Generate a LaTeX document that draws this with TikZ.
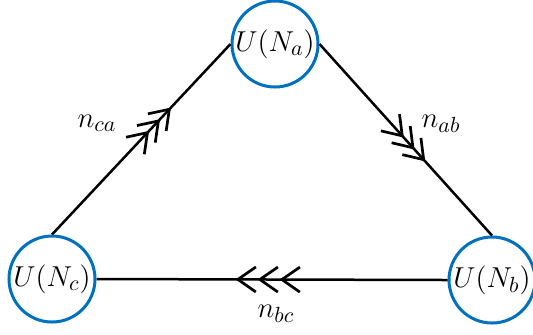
\documentclass[tikz,border=0pt]{standalone}
\usetikzlibrary{arrows.meta,decorations.markings}
\definecolor{nodeblue}{HTML}{0070C0}
\begin{document}
\begin{tikzpicture}[x=0.5pt,y=-0.5pt,
  state/.style={circle,draw=nodeblue,line width=1.5pt,minimum size=43pt,inner sep=0pt,font=\fontsize{15}{17}\selectfont},
  conn/.style={draw=black,line width=1.25pt},
  lbl/.style={font=\fontsize{15}{17}\selectfont},
  tri/.style n args={3}{postaction={decorate},decoration={markings,
    mark=at position #1 with {\arrow[line width=1.35pt]{Straight Barb[length=9pt,width=12.5pt]}},
    mark=at position #2 with {\arrow[line width=1.35pt]{Straight Barb[length=9pt,width=12.5pt]}},
    mark=at position #3 with {\arrow[line width=1.35pt]{Straight Barb[length=9pt,width=12.5pt]}}}}]
\useasboundingbox (0,0) rectangle (533,334);
\node[state] (a) at (275,44) {$U(N_a)$};
\node[state] (b) at (492,280) {$U(N_b)$};
\node[state] (c) at (52,279) {$U(N_c)$};
\draw[conn,tri={87pt}{79pt}{71pt}] (c.north) -- (a.west);
\draw[conn,tri={79pt}{71pt}{63pt}] (a.east) -- (b.north);
\draw[conn,tri={106pt}{95pt}{84pt}] (b.west) -- (c.east);
\node[lbl] (nca) at (97,123) {$n_{ca}$};
\node[lbl] (nab) at (441,124) {$n_{ab}$};
\node[lbl] (nbc) at (276,314) {$n_{bc}$};
\end{tikzpicture}
\end{document}
